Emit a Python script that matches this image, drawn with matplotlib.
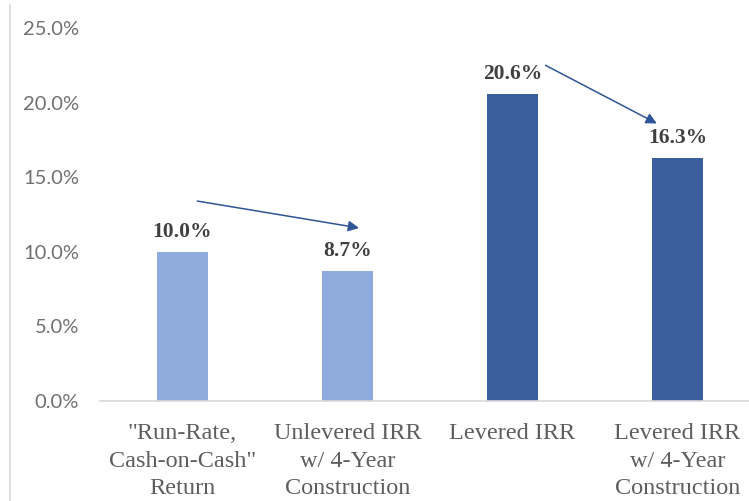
import matplotlib.pyplot as plt
from matplotlib.lines import Line2D
from matplotlib.ticker import FuncFormatter

# Return metrics, in percent
categories = ['"Run-Rate,\nCash-on-Cash"\nReturn',
              'Unlevered IRR\nw/ 4-Year\nConstruction',
              'Levered IRR',
              'Levered IRR\nw/ 4-Year\nConstruction']
returns = [10.0, 8.7, 20.6, 16.3]
bar_colors = ['#8FAADC', '#8FAADC', '#3B5E9E', '#3B5E9E']
y_ticks = [0, 5, 10, 15, 20, 25]

serif = ['Liberation Serif', 'DejaVu Serif']
sans = ['Lato', 'DejaVu Sans']

fig = plt.figure(figsize=(7.49, 5.01), dpi=100)
ax = fig.add_axes([100 / 749, 100 / 501, 660 / 749, 373 / 501])

x = list(range(len(returns)))
bars = ax.bar(x, returns, width=0.31, color=bar_colors, zorder=2)

ax.set_xlim(-0.5, 3.5)
ax.set_ylim(0, 25)
ax.set_yticks(y_ticks)
ax.yaxis.set_major_formatter(FuncFormatter(lambda v, _: f'{v:.1f}%'))
ax.set_xticks(x)
ax.set_xticklabels(categories, fontfamily=serif, fontsize=17.5,
                   color='#5E5E5E', linespacing=1.4)

for lbl in ax.get_yticklabels():
    lbl.set_fontfamily(sans)
    lbl.set_fontsize(14.5)
    lbl.set_color('#707070')

ax.tick_params(axis='y', length=0, pad=15)
ax.tick_params(axis='x', length=0, pad=16)
for side in ['top', 'right', 'left']:
    ax.spines[side].set_visible(False)
ax.spines['bottom'].set_color('#D9D9D9')
ax.spines['bottom'].set_linewidth(1.2)

# value labels above each bar
for rect, val in zip(bars, returns):
    ax.annotate(f'{val:.1f}%', (rect.get_x() + rect.get_width() / 2, val),
                xytext=(0, 7), textcoords='offset points',
                ha='center', va='bottom', fontfamily=serif,
                fontsize=15.5, fontweight='bold', color='#404040')

# arrows showing the drop from run-rate to construction-adjusted returns
arrow_style = dict(arrowstyle='-|>', color='#2F5597', lw=1.1,
                   mutation_scale=16, shrinkA=0, shrinkB=0)
ax.annotate('', xy=(1.07, 11.6), xytext=(0.09, 13.4), arrowprops=arrow_style)
ax.annotate('', xy=(2.875, 18.6), xytext=(2.2, 22.5), arrowprops=arrow_style)

# thin frame line on the left edge
fig.add_artist(Line2D([10 / 749, 10 / 749], [0, 0.99], color='#D9D9D9', lw=1.2))

fig.savefig('out.png', dpi=100)
